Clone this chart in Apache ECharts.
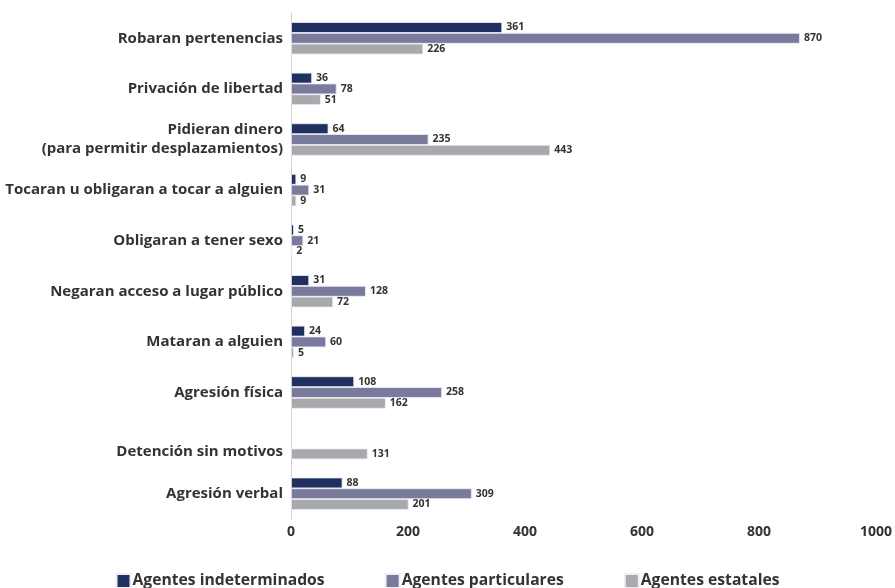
<!DOCTYPE html>
<html>
<head>
<meta charset="utf-8">
<title>Hechos victimizantes por tipo de agente</title>
<script src="https://cdn.jsdelivr.net/npm/echarts@6/dist/echarts.min.js"></script>
<style>
  html, body { margin: 0; padding: 0; background: #ffffff; }
  #chart { width: 895px; height: 588px; }
</style>
</head>
<body>
<div id="chart"></div>
<script>
// Categories, top to bottom
var categories = [
  'Robaran pertenencias',
  'Privación de libertad',
  'Pidieran dinero\n(para permitir desplazamientos)',
  'Tocaran u obligaran a tocar a alguien',
  'Obligaran a tener sexo',
  'Negaran acceso a lugar público',
  'Mataran a alguien',
  'Agresión física',
  'Detención sin motivos',
  'Agresión verbal'
];

var seriesNames = ['Agentes indeterminados', 'Agentes particulares', 'Agentes estatales'];

var indeterminados = [361, 36, 64, 9, 5, 31, 24, 108, null, 88];
var particulares   = [870, 78, 235, 31, 21, 128, 60, 258, null, 309];
var estatales      = [226, 51, 443, 9, 2, 72, 5, 162, 131, 201];

var xTicks = { min: 0, max: 1000, interval: 200 };

var colors = ['#1f3061', '#7a7b9c', '#a8a9ac'];
var FONT = '"Open Sans", "Noto Sans", sans-serif';

function makeSeries(name, data, color) {
  return {
    name: name,
    type: 'bar',
    data: data,
    barGap: '0%',
    barCategoryGap: '36%',
    itemStyle: { color: color, borderColor: '#eeeef6', borderWidth: 0.8 },
    label: {
      show: true,
      position: 'right',
      distance: 4,
      fontFamily: FONT,
      fontSize: 10.5,
      fontWeight: 'bold',
      color: '#333333'
    }
  };
}

var chart = echarts.init(document.getElementById('chart'), null, { renderer: 'canvas' });

chart.setOption({
  animation: false,
  backgroundColor: '#ffffff',
  color: colors,
  grid: { left: 291, right: 19, top: 13, bottom: 69, containLabel: false },
  legend: {
    data: seriesNames,
    bottom: -6,
    left: 'center',
    icon: 'rect',
    itemWidth: 14,
    itemHeight: 14,
    itemGap: 60,
    textStyle: { fontFamily: FONT, fontSize: 15.7, fontWeight: 'bold', color: '#333333', padding: [0, 0, 0, -3] }
  },
  xAxis: {
    type: 'value',
    min: xTicks.min,
    max: xTicks.max,
    interval: xTicks.interval,
    axisLine: { show: false },
    axisTick: { show: false },
    splitLine: { show: false },
    axisLabel: {
      margin: 6,
      fontFamily: FONT,
      fontSize: 14,
      fontWeight: 'bold',
      color: '#333333',
      formatter: function (v) { return String(v); }
    }
  },
  yAxis: {
    type: 'category',
    inverse: true,
    data: categories,
    axisLine: { show: true, lineStyle: { color: '#d2d2d2', width: 1 } },
    axisTick: { show: false },
    axisLabel: {
      margin: 8,
      interval: 0,
      fontFamily: FONT,
      fontSize: 15,
      fontWeight: 'bold',
      color: '#333333',
      lineHeight: 19,
      formatter: function (value) {
        if (value === 'Detención sin motivos') {
          return '{low|' + value + '}';
        }
        return value;
      },
      rich: {
        low: {
          fontFamily: FONT,
          fontSize: 15,
          fontWeight: 'bold',
          color: '#333333',
          padding: [18, 0, 0, 0]
        }
      }
    }
  },
  series: [
    makeSeries(seriesNames[0], indeterminados, colors[0]),
    makeSeries(seriesNames[1], particulares, colors[1]),
    makeSeries(seriesNames[2], estatales, colors[2])
  ]
});
</script>
</body>
</html>
